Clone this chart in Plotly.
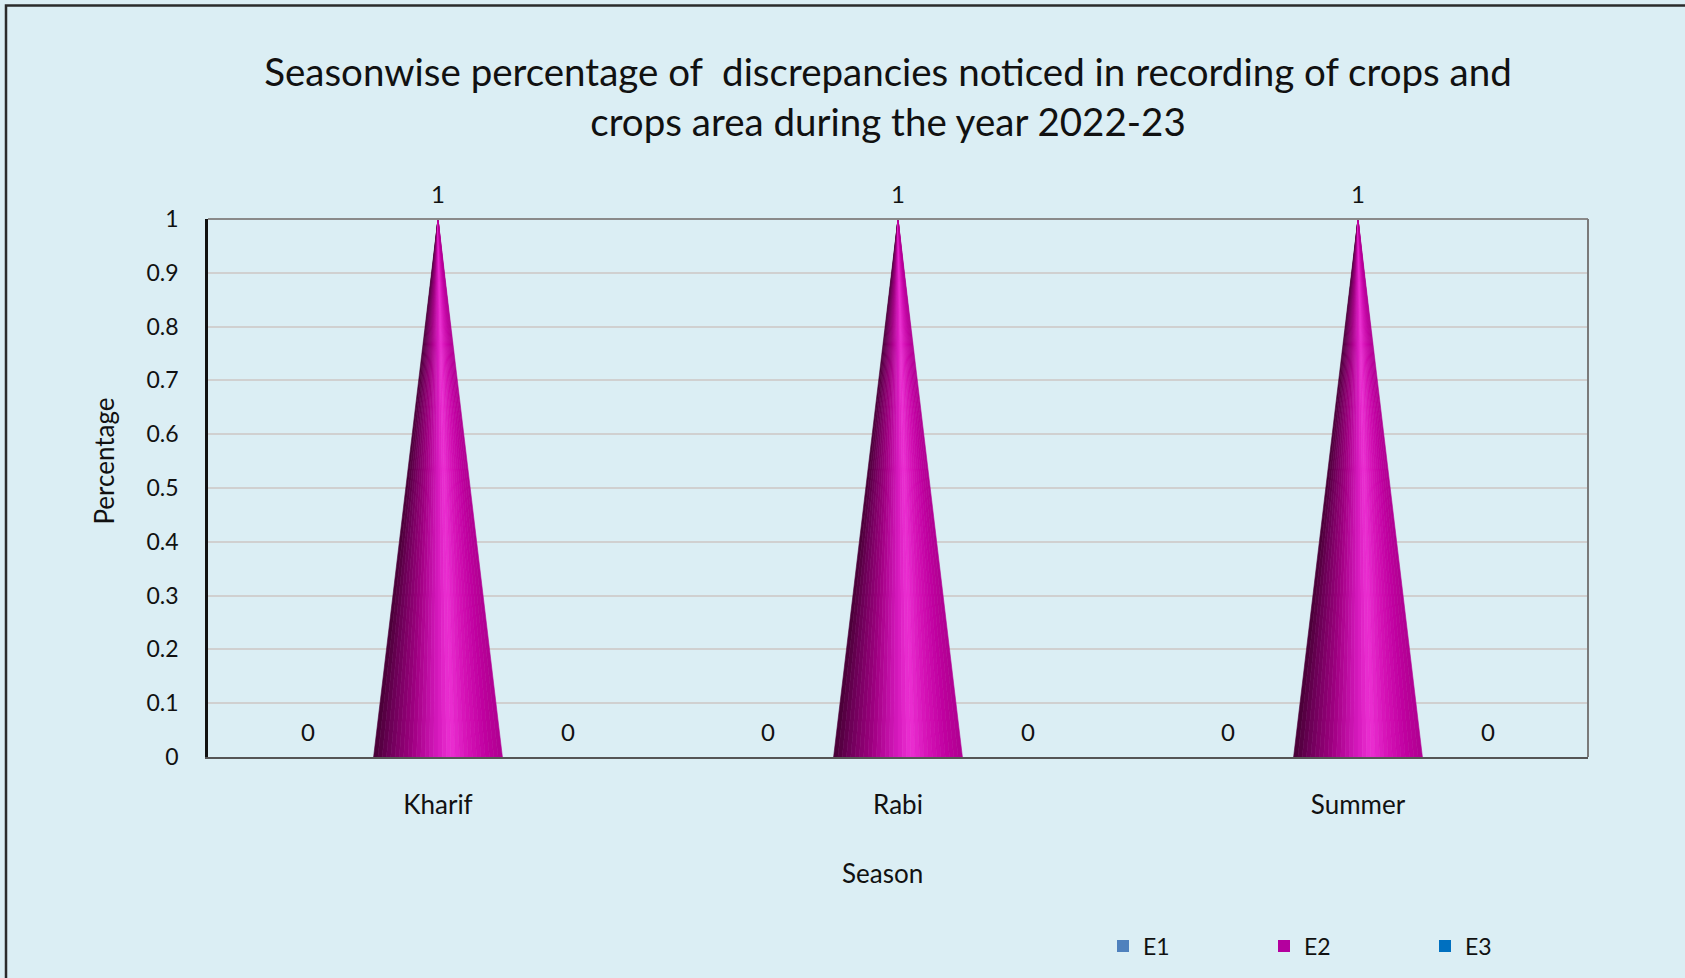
import plotly.graph_objects as go

# ---- data ----
seasons = ["Kharif", "Rabi", "Summer"]
series_names = ["E1", "E2", "E3"]
e1_values = [0, 0, 0]
e2_values = [1, 1, 1]
e3_values = [0, 0, 0]
y_ticks = [0, 0.1, 0.2, 0.3, 0.4, 0.5, 0.6, 0.7, 0.8, 0.9, 1]

# ---- styling ----
W, H = 1685, 978
ML, MR, MT, MB = 208, 97, 219, 220
BG = "#DBEEF4"
FONT = "Lato"
TXT = "#111111"
colors = {"E1": "#4F81BD", "E2": "#B4009E", "E3": "#0070C0"}
slot = 0.283          # width of one series slot in category units
cone_w = 0.28         # base width of the cone

x_idx = list(range(len(seasons)))

# pixel -> paper helpers
pw, ph = W - ML - MR, H - MT - MB
def px_x(p): return (p - ML) / pw
def px_y(p): return 1 - (p - MT) / ph

fig = go.Figure()

# bars: E1 / E3 (zero height), E2 thin carrier bar (cone drawn on top)
bar_defs = [("E1", e1_values, -1.5 * slot, slot, -slot),
            ("E2", e2_values, -0.001, 0.002, 0.0),
            ("E3", e3_values, 0.5 * slot, slot, slot)]
annotations = []
for name, vals, off, wid, centre in bar_defs:
    fig.add_trace(go.Bar(
        x=x_idx, y=vals, name=name,
        offset=off, width=wid,
        marker=dict(color=colors[name], line=dict(width=0)),
        hoverinfo="skip",
    ))
    for xi, v in zip(x_idx, vals):
        annotations.append(dict(
            x=xi + centre, y=v, xref="x", yref="y", text=str(v),
            showarrow=False, yanchor="bottom", yshift=9,
            font=dict(family=FONT, size=24, color=TXT),
        ))

# Cone for E2, drawn as shaded strips
stops = [(0.0, (70, 0, 52)), (0.12, (110, 0, 88)), (0.3, (160, 0, 130)),
         (0.5, (215, 25, 190)), (0.6, (236, 48, 210)), (0.72, (215, 20, 185)),
         (0.88, (192, 0, 160)), (1.0, (176, 0, 145))]


def interp(t):
    for (t0, c0), (t1, c1) in zip(stops[:-1], stops[1:]):
        if t0 <= t <= t1:
            f = (t - t0) / (t1 - t0) if t1 > t0 else 0
            return "rgb(%d,%d,%d)" % tuple(round(a + (b - a) * f) for a, b in zip(c0, c1))
    return "rgb(%d,%d,%d)" % stops[-1][1]


N = 30
for k in range(N):
    xs, ys = [], []
    for xi, v in zip(x_idx, e2_values):
        a = xi - cone_w / 2 + k * cone_w / N
        b = xi - cone_w / 2 + (k + 1) * cone_w / N
        xs += [a, b, xi, a, None]
        ys += [0, 0, v, 0, None]
    col = interp((k + 0.5) / N)
    fig.add_trace(go.Scatter(
        x=xs, y=ys, mode="lines", fill="toself", fillcolor=col,
        line=dict(color=col, width=0.6), showlegend=False, hoverinfo="skip",
    ))

# axis titles (placed as in the original, not centred on the plot)
annotations.append(dict(
    x=px_x(882), y=px_y(874), xref="paper", yref="paper", text="Season",
    showarrow=False, xanchor="center", yanchor="middle",
    font=dict(family=FONT, size=26, color=TXT),
))
annotations.append(dict(
    x=px_x(104), y=px_y(462), xref="paper", yref="paper", text="Percentage",
    showarrow=False, xanchor="center", yanchor="middle", textangle=-90,
    font=dict(family=FONT, size=26, color=TXT),
))

shapes = [
    dict(type="rect", xref="paper", yref="paper",
         x0=px_x(6), x1=px_x(W + 10), y0=px_y(H + 10), y1=px_y(5),
         line=dict(color="#2b2b2b", width=2.5), fillcolor="rgba(0,0,0,0)", layer="below"),
    dict(type="line", xref="paper", yref="paper", x0=0, x1=1, y0=1, y1=1,
         line=dict(color="#8a8a8a", width=2)),
    dict(type="line", xref="paper", yref="paper", x0=1, x1=1, y0=0, y1=1,
         line=dict(color="#7a7a7a", width=2)),
]

fig.update_layout(
    width=W, height=H,
    margin=dict(l=ML, r=MR, t=MT, b=MB, pad=0),
    paper_bgcolor=BG, plot_bgcolor=BG,
    font=dict(family=FONT, color=TXT),
    barmode="overlay",
    title=dict(
        text="Seasonwise percentage of  discrepancies noticed in recording of crops and<br>crops area during the year 2022-23",
        x=888 / W, xanchor="center", y=1 - 86 / H, yanchor="middle",
        font=dict(family=FONT, size=38.5, color=TXT),
    ),
    xaxis=dict(
        range=[-0.5, 2.5], tickmode="array", tickvals=x_idx, ticktext=seasons,
        showgrid=False, zeroline=False, showline=True, linecolor="#555", linewidth=2,
        ticks="", ticklabelstandoff=24,
        tickfont=dict(family=FONT, size=26, color=TXT),
    ),
    yaxis=dict(
        range=[0, 1], tickmode="array", tickvals=y_ticks,
        ticktext=[("%g" % t) for t in y_ticks],
        showgrid=True, gridcolor="#d0d0d0", gridwidth=1.5,
        zeroline=False, showline=True, linecolor="#111", linewidth=2.5,
        ticks="", ticklabelstandoff=22,
        tickfont=dict(family=FONT, size=23, color=TXT),
    ),
    legend=dict(
        orientation="h", x=px_x(1103), xanchor="left",
        y=px_y(946), yanchor="middle", yref="paper",
        font=dict(family=FONT, size=23, color=TXT),
        entrywidth=116, bgcolor="rgba(0,0,0,0)", itemsizing="constant",
        traceorder="normal",
    ),
    annotations=annotations,
    shapes=shapes,
    showlegend=True,
)

fig.write_html("out.html", config={"displayModeBar": False},
               post_script="document.body.style.margin='0px';")
